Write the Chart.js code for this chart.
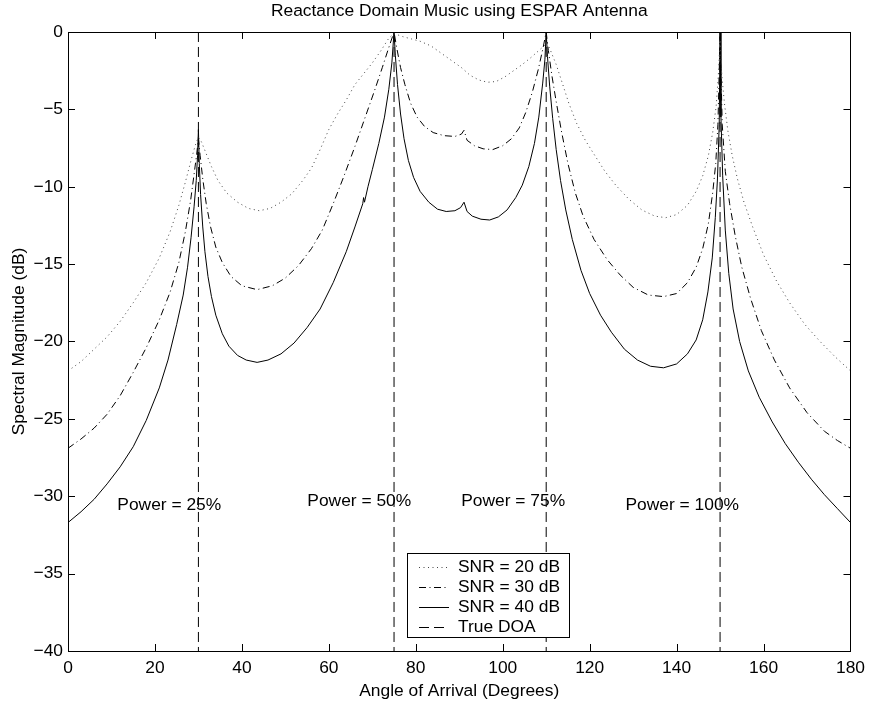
<!DOCTYPE html>
<html>
<head>
<meta charset="utf-8">
<title>Reactance Domain Music using ESPAR Antenna</title>
<script src="https://cdn.jsdelivr.net/npm/chart.js@4/dist/chart.umd.min.js"></script>
<style>
  html, body { margin: 0; padding: 0; background: #fff; }
  canvas { display: block; }
</style>
</head>
<body>
<canvas id="music_chart" width="872" height="706"></canvas>
<script>
// values (angle in degrees, magnitude in dB)
const snr20_x = [0, 3, 6, 9, 12, 15, 18, 21, 23.5, 25.5, 27, 28.3, 29.3, 30, 30.7, 31.7, 33, 34.5, 36.5, 39, 41.5, 44,
  46.5, 49, 51.5, 54, 56, 58, 60, 62, 64, 66, 68, 70, 72, 73.8, 75, 77, 79, 81, 83.5, 86, 88.5, 90.5, 92.5, 94.5, 96.5,
  98.5, 100.5, 102.5, 104.5, 106.5, 108.3, 109.5, 110.2, 111, 112.3, 113.7, 115.2, 117, 119, 121, 123.5, 126, 129, 132,
  135, 137.5, 140, 142.5, 144.5, 146, 147.3, 148.3, 149.1, 149.6, 150, 150.4, 151, 151.8, 152.8, 154, 155.5, 157.5,
  160, 163, 166, 169.5, 173, 176.5, 180];
const snr20_y = [-21.9, -21.3, -20.5, -19.7, -18.7, -17.5, -16.2, -14.6, -12.9, -11.2, -9.7, -8.3, -7.3, -6.8, -7.1,
  -7.8, -8.7, -9.6, -10.4, -11.0, -11.4, -11.55, -11.4, -11.0, -10.45, -9.6, -8.8, -7.6, -6.3, -5.3, -4.4, -3.4, -2.7,
  -2.0, -1.2, -0.4, -0.1, -0.3, -0.45, -0.6, -0.9, -1.4, -1.9, -2.3, -2.8, -3.1, -3.25, -3.2, -2.9, -2.5, -2.1, -1.65,
  -1.2, -0.9, -0.7, -1.2, -2.1, -3.3, -4.6, -5.9, -7.0, -7.9, -9.0, -9.9, -10.8, -11.5, -11.9, -12.0, -11.8, -11.2,
  -10.3, -9.3, -8.0, -6.5, -4.8, -2.8, -0.5, -2.8, -4.6, -6.4, -8.0, -9.5, -11.0, -12.6, -14.4, -16.1, -17.5, -18.9,
  -20.0, -21.0, -21.9];

const snr30_x = [0, 3, 6, 9, 12, 15, 18, 21, 23.5, 25.5, 27, 28.2, 29, 29.6, 30, 30.4, 31, 31.8, 32.8, 34, 35.5, 37.5,
  40, 43.5, 47, 50, 53, 56, 58.5, 61, 63.5, 66, 68.5, 70.5, 72.3, 73.8, 75, 75.6, 76.5, 77.5, 78.8, 80.3, 82, 84, 86.5,
  89, 90.5, 91.1, 91.8, 93.5, 95.5, 97.7, 100, 102, 103.8, 105.3, 106.8, 108.2, 109.3, 110, 110.5, 111.3, 112.3, 113.5,
  115, 116.7, 118.5, 121, 124, 127, 130, 133.5, 137, 140, 142.5, 144.5, 146, 147.3, 148.3, 149, 149.5, 150, 150.5,
  151.2, 152.2, 153.5, 155, 157, 159.5, 162.5, 166, 170, 174, 177, 180];
const snr30_y = [-26.9, -26.3, -25.6, -24.7, -23.5, -22.0, -20.4, -18.6, -16.8, -14.9, -12.9, -10.9, -9.2, -7.9, -6.9,
  -8.0, -9.5, -11.1, -12.6, -13.9, -14.9, -15.8, -16.4, -16.65, -16.4, -15.9, -15.1, -14.0, -12.8, -11.1, -9.3, -7.4,
  -5.4, -3.8, -2.3, -1.0, 0, -1.0, -2.3, -3.4, -4.6, -5.5, -6.1, -6.5, -6.7, -6.75, -6.6, -6.35, -7.0, -7.35, -7.55,
  -7.6, -7.35, -6.9, -6.2, -5.2, -3.9, -2.4, -1.0, 0, -1.2, -2.8, -4.5, -6.4, -8.5, -10.4, -11.9, -13.4, -14.7, -15.7,
  -16.5, -17.0, -17.1, -16.9, -16.2, -15.2, -14.0, -12.4, -10.4, -8.5, -6, -0.3, -6, -9.0, -11.1, -13.2, -15.2, -17.2,
  -19.3, -21.2, -23.0, -24.6, -25.8, -26.4, -26.9];

const snr40_x = [0, 3, 6, 9, 12, 15, 18, 21, 23, 25, 26.5, 27.5, 28.3, 29, 29.5, 29.8, 30, 30.2, 30.5, 31, 31.5, 32.2,
  33, 34, 35.5, 37, 39, 41, 43.5, 46, 49, 52, 55, 58, 61, 64, 66, 67.8, 68, 68.2, 69, 70, 71.5, 72.8, 73.8, 74.5, 75,
  75.3, 75.8, 76.5, 77.3, 78.3, 79.5, 81, 83, 85, 87, 89, 90.3, 91.1, 91.8, 93, 95, 97, 99, 101, 103, 104.5, 106, 107.3,
  108.3, 109.2, 109.7, 110, 110.3, 110.8, 111.5, 112.3, 113.3, 114.5, 116, 118, 120, 122.5, 125, 128, 131, 134, 137,
  140, 142.5, 144.5, 146, 147.2, 148.2, 148.9, 149.4, 149.8, 150, 150.2, 150.6, 151.2, 152, 153, 154.5, 156.5, 159,
  162, 165, 168, 171, 174, 177, 180];
const snr40_y = [-31.7, -31.0, -30.2, -29.2, -28.1, -26.8, -25.1, -23.0, -21.2, -18.9, -17.0, -15.2, -13.3, -11.3, -9.6,
  -8.0, -6.3, -8.5, -10.5, -12.6, -14.2, -15.8, -17.1, -18.3, -19.5, -20.3, -20.9, -21.2, -21.35, -21.2, -20.8, -20.1,
  -19.1, -17.9, -16.2, -14.2, -12.6, -11.1, -10.7, -11.0, -10.0, -8.9, -7.2, -5.5, -3.7, -2.0, 0, -1.5, -3.4, -5.3,
  -6.9, -8.3, -9.4, -10.3, -11.0, -11.45, -11.6, -11.55, -11.35, -11.0, -11.6, -11.9, -12.1, -12.15, -11.95, -11.5,
  -10.7, -9.9, -8.7, -7.2, -5.5, -3.3, -1.8, 0, -1.6, -3.5, -5.6, -7.6, -9.6, -11.5, -13.4, -15.4, -16.9, -18.3, -19.4,
  -20.5, -21.2, -21.6, -21.7, -21.45, -20.8, -19.9, -18.6, -16.8, -14.6, -12, -9.5, -6, 0, -5.5, -9.3, -12.8, -15.6,
  -17.9, -20.0, -21.9, -23.6, -25.2, -26.6, -27.8, -28.9, -29.9, -30.8, -31.7];

const doaAngles = [30, 75, 110, 150];
const seriesNames = ['SNR = 20 dB', 'SNR = 30 dB', 'SNR = 40 dB', 'True DOA'];

const xTicks = [0, 20, 40, 60, 80, 100, 120, 140, 160, 180];
const yTicks = [0, -5, -10, -15, -20, -25, -30, -35, -40];

const powerLabels = ['Power = 25%', 'Power = 50%', 'Power = 75%', 'Power = 100%'];
const powerLabelX = [23.3, 67.0, 102.4, 141.3];
const powerLabelY = [-30.6, -30.3, -30.3, -30.6];

const FONT = '"Liberation Sans", Arial, Helvetica, sans-serif';
const FSIZE = 17.4;
Chart.defaults.font.family = FONT;
Chart.defaults.font.size = FSIZE;
Chart.defaults.color = '#000';

function pairs(xs, ys) {
  return xs.map((x, i) => ({x: x, y: ys[i]}));
}

// vertical dashed lines, broken with nulls between them
const doaData = [];
doaAngles.forEach(a => {
  doaData.push({x: a, y: 0}, {x: a, y: -40}, {x: a, y: null});
});

const minus = v => String(v).replace('-', '\u2212');

// axes box with inward ticks on all four sides (matlab style)
const boxPlugin = {
  id: 'box',
  afterDatasetsDraw(chart) {
    const ctx = chart.ctx;
    const a = chart.chartArea;
    const sx = chart.scales.x, sy = chart.scales.y;
    const L = 7;
    ctx.save();
    ctx.strokeStyle = '#000';
    ctx.lineWidth = 1;
    ctx.beginPath();
    xTicks.forEach(t => {
      const px = Math.round(sx.getPixelForValue(t)) + 0.5;
      ctx.moveTo(px, a.bottom); ctx.lineTo(px, a.bottom - L);
      ctx.moveTo(px, a.top); ctx.lineTo(px, a.top + L);
    });
    yTicks.forEach(t => {
      const py = Math.round(sy.getPixelForValue(t)) + 0.5;
      ctx.moveTo(a.left, py); ctx.lineTo(a.left + L, py);
      ctx.moveTo(a.right, py); ctx.lineTo(a.right - L, py);
    });
    ctx.stroke();
    ctx.strokeRect(Math.round(a.left) + 0.5, Math.round(a.top) + 0.5,
      Math.round(a.right - a.left), Math.round(a.bottom - a.top));

    // power annotations
    ctx.fillStyle = '#000';
    ctx.font = FSIZE + 'px ' + FONT;
    ctx.textAlign = 'center';
    ctx.textBaseline = 'middle';
    powerLabels.forEach((txt, i) => {
      ctx.fillText(txt, sx.getPixelForValue(powerLabelX[i]), sy.getPixelForValue(powerLabelY[i]));
    });
    ctx.restore();
  }
};

// legend box inside the plot, near the bottom centre
const legendBox = {
  id: 'legendBox',
  afterDraw(chart) {
    const ctx = chart.ctx;
    const left = 407, top = 553, w = 162, h = 84;
    ctx.save();
    ctx.fillStyle = '#fff';
    ctx.fillRect(left, top, w, h);
    ctx.strokeStyle = '#000';
    ctx.lineWidth = 1;
    ctx.strokeRect(left + 0.5, top + 0.5, w, h);
    ctx.font = FSIZE + 'px ' + FONT;
    ctx.textBaseline = 'middle';
    ctx.textAlign = 'left';
    chart.data.datasets.forEach((ds, i) => {
      const y = top + 13.5 + i * 20;
      ctx.beginPath();
      ctx.setLineDash(ds.borderDash || []);
      ctx.strokeStyle = ds.borderColor;
      ctx.lineWidth = ds.borderWidth;
      ctx.moveTo(left + 12, Math.round(y) + 0.5);
      ctx.lineTo(left + 42, Math.round(y) + 0.5);
      ctx.stroke();
      ctx.setLineDash([]);
      ctx.fillStyle = '#000';
      ctx.fillText(ds.label, left + 51, y + 1);
    });
    ctx.restore();
  }
};

const lineBase = {pointRadius: 0, borderWidth: 1, tension: 0, fill: false};

new Chart(document.getElementById('music_chart').getContext('2d'), {
  type: 'line',
  data: {
    datasets: [
      Object.assign({label: seriesNames[0], data: pairs(snr20_x, snr20_y),
        borderColor: '#444', borderDash: [1, 3.5]}, lineBase),
      Object.assign({label: seriesNames[1], data: pairs(snr30_x, snr30_y),
        borderColor: '#000', borderDash: [7, 3.5, 1, 3.5]}, lineBase),
      Object.assign({label: seriesNames[2], data: pairs(snr40_x, snr40_y),
        borderColor: '#000'}, lineBase),
      Object.assign({label: seriesNames[3], data: doaData,
        borderColor: '#000', borderDash: [10, 5], spanGaps: false}, lineBase)
    ]
  },
  options: {
    responsive: false,
    animation: false,
    layout: {padding: {left: 0, right: 18, top: 0, bottom: 0}},
    plugins: {
      legend: {display: false},
      tooltip: {enabled: false},
      title: {
        display: true,
        fullSize: false,
        text: 'Reactance Domain Music using ESPAR Antenna',
        font: {size: FSIZE, weight: 'normal'},
        color: '#000',
        padding: {top: 1, bottom: 10.1}
      }
    },
    scales: {
      x: {
        type: 'linear',
        min: 0, max: 180,
        grid: {display: false, drawTicks: false},
        border: {display: false},
        ticks: {stepSize: 20, padding: 7, color: '#000', maxRotation: 0, callback: minus},
        title: {display: true, text: 'Angle of Arrival (Degrees)', color: '#000', padding: {top: 6.6}},
        afterFit(s) { s.height = 55; }
      },
      y: {
        type: 'linear',
        min: -40, max: 0,
        grid: {display: false, drawTicks: false},
        border: {display: false},
        ticks: {stepSize: 5, padding: 5, color: '#000', callback: minus},
        title: {display: true, text: 'Spectral Magnitude (dB)', color: '#000', padding: {top: 8.6}},
        afterFit(s) { s.width = 68; }
      }
    }
  },
  plugins: [boxPlugin, legendBox]
});
</script>
</body>
</html>
